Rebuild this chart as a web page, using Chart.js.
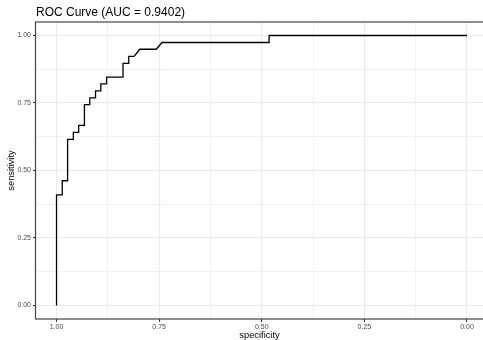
<!DOCTYPE html>
<html>
<head>
<meta charset="utf-8">
<script src="https://cdn.jsdelivr.net/npm/chart.js@4"></script>
<style>
  html, body { margin: 0; padding: 0; background: #fff; overflow: hidden; }
  #wrap { width: 483px; height: 340px; }
</style>
</head>
<body>
<div id="wrap"><canvas id="rocChart" width="483" height="340"></canvas></div>
<script>
// ROC path vertices (specificity runs 1 -> 0)
const specificity = [1, 1, 0.986, 0.986, 0.973, 0.973, 0.959, 0.959, 0.946, 0.946,
    0.932, 0.932, 0.919, 0.919, 0.905, 0.905, 0.892, 0.892, 0.878, 0.878,
    0.838, 0.838, 0.824, 0.824, 0.811, 0.797, 0.757, 0.743, 0.482, 0.482, 0];
const sensitivity = [0, 0.410, 0.410, 0.462, 0.462, 0.615, 0.615, 0.641, 0.641, 0.667,
    0.667, 0.744, 0.744, 0.769, 0.769, 0.795, 0.795, 0.821, 0.821, 0.846,
    0.846, 0.897, 0.897, 0.923, 0.923, 0.949, 0.949, 0.974, 0.974, 1, 1];

const majorTicks = [0, 0.25, 0.5, 0.75, 1];
const minorTicks = [0.125, 0.375, 0.625, 0.875];

const FONT = 'Liberation Sans, Arial, Helvetica, sans-serif';
const isMajor = (v) => majorTicks.some(m => Math.abs(m - v) < 1e-9);
const allTicks = majorTicks.concat(minorTicks).sort((a, b) => a - b);

const gridOpts = {
    color: '#EBEBEB',
    lineWidth: (c) => (c.tick && isMajor(c.tick.value)) ? 1.1 : 0.6,
    tickColor: (c) => (c.tick && isMajor(c.tick.value)) ? '#333333' : 'rgba(0,0,0,0)',
    tickLength: 3,
    tickWidth: 1
};

// panel border drawn once round the plot area (right edge falls off-canvas)
const panelBorder = {
    id: 'panelBorder',
    afterDraw(chart) {
        const a = chart.chartArea;
        const ctx = chart.ctx;
        ctx.save();
        ctx.strokeStyle = '#444444';
        ctx.lineWidth = 1.2;
        ctx.strokeRect(a.left - 0.5, a.top, a.right - a.left + 2, a.bottom - a.top);
        ctx.restore();
    }
};

const ctx = document.getElementById('rocChart').getContext('2d');

new Chart(ctx, {
    type: 'scatter',
    data: {
        datasets: [{
            data: specificity.map((s, i) => ({ x: s, y: sensitivity[i] })),
            showLine: true,
            borderColor: '#000000',
            borderWidth: 1.3,
            pointRadius: 0,
            fill: false,
            tension: 0
        }]
    },
    options: {
        responsive: false,
        animation: false,
        layout: { padding: 0 },
        plugins: {
            legend: { display: false },
            tooltip: { enabled: false },
            title: {
                display: true,
                text: 'ROC Curve (AUC = 0.9402)',
                align: 'start',
                fullSize: false,
                color: '#000000',
                font: { family: FONT, size: 12, weight: 'normal', lineHeight: 1.2 },
                padding: { top: 5, bottom: 2.6 }
            }
        },
        scales: {
            x: {
                type: 'linear',
                reverse: true,
                min: -0.039,
                max: 1.05,
                afterFit: (s) => { s.height = 21; },
                afterBuildTicks: (s) => { s.ticks = allTicks.map(v => ({ value: v })); },
                grid: gridOpts,
                border: { display: false },
                ticks: {
                    autoSkip: false,
                    maxRotation: 0,
                    color: '#4D4D4D',
                    font: { family: FONT, size: 7 },
                    padding: 0.5,
                    callback: (v) => isMajor(v) ? v.toFixed(2) : ''
                },
                title: {
                    display: true,
                    text: 'specificity',
                    color: '#000000',
                    font: { family: FONT, size: 9.3, lineHeight: 1.0 },
                    padding: { top: 0, bottom: 0 }
                }
            },
            y: {
                type: 'linear',
                min: -0.05,
                max: 1.05,
                afterFit: (s) => { s.width = 36; },
                afterBuildTicks: (s) => { s.ticks = allTicks.map(v => ({ value: v })); },
                grid: gridOpts,
                border: { display: false },
                ticks: {
                    autoSkip: false,
                    color: '#4D4D4D',
                    font: { family: FONT, size: 7 },
                    padding: 2,
                    callback: (v) => isMajor(v) ? v.toFixed(2) : ''
                },
                title: {
                    display: true,
                    text: 'sensitivity',
                    color: '#000000',
                    font: { family: FONT, size: 9.3, lineHeight: 1.2 },
                    padding: { top: 6, bottom: 0 }
                }
            }
        }
    },
    plugins: [panelBorder]
});
</script>
</body>
</html>
